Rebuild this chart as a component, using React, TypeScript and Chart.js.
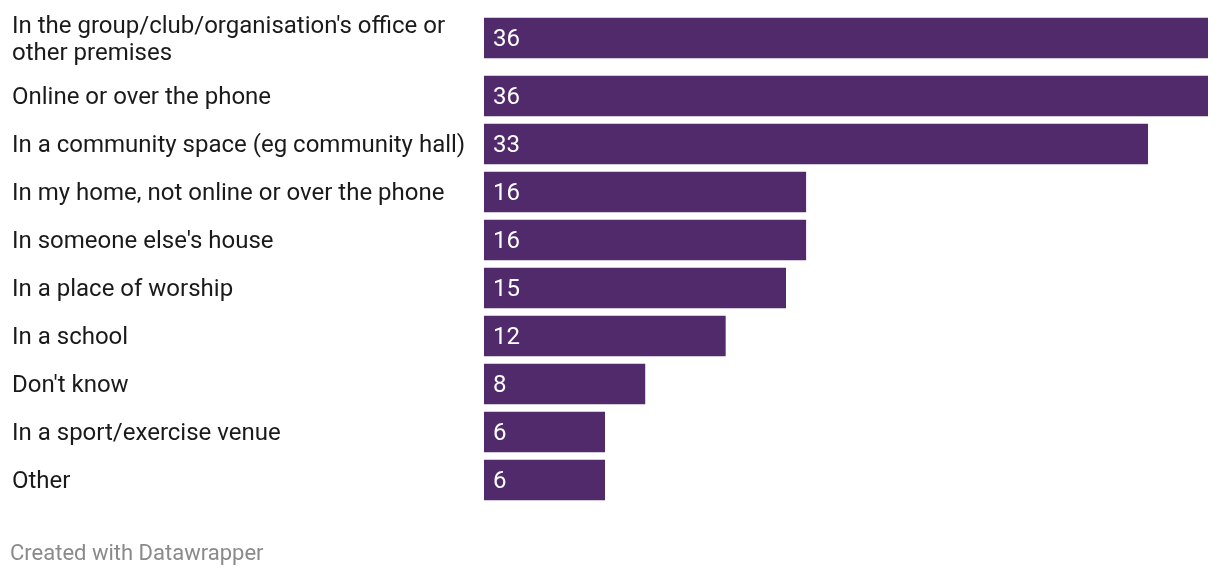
import React, { useEffect, useRef } from "react";
import { Chart, registerables } from "chart.js";

Chart.register(...registerables);

const categories: string[][] = [
  ["In the group/club/organisation's office or", "other premises"],
  ["Online or over the phone"],
  ["In a community space (eg community hall)"],
  ["In my home, not online or over the phone"],
  ["In someone else's house"],
  ["In a place of worship"],
  ["In a school"],
  ["Don't know"],
  ["In a sport/exercise venue"],
  ["Other"],
];
const values: number[] = [36, 36, 33, 16, 16, 15, 12, 8, 6, 6];
const footerText = "Created with Datawrapper";

const BAR_COLOR = "#502a6a";
const FONT = "Roboto";
const ROW = 48;
const EXTRA_LINE = 20;
const LINE_H = 27;

export default function App() {
  const ref = useRef<HTMLCanvasElement | null>(null);

  useEffect(() => {
    document.body.style.margin = "0";
    const heights = categories.map((c) => ROW + (c.length - 1) * EXTRA_LINE);
    const centers: number[] = [];
    let acc = 0;
    heights.forEach((h) => {
      centers.push(acc + h / 2);
      acc += h;
    });
    const total = acc;

    const labelPlugin = {
      id: "labels",
      afterDatasetsDraw(chart: any) {
        const ctx = chart.ctx;
        const yScale = chart.scales.y;
        const meta = chart.getDatasetMeta(0);
        ctx.save();
        ctx.font = `24px ${FONT}`;
        ctx.textBaseline = "middle";
        categories.forEach((lines, i) => {
          const cy = yScale.getPixelForValue(centers[i]);
          ctx.fillStyle = "#1a1a1a";
          ctx.textAlign = "left";
          const start = cy - ((lines.length - 1) * LINE_H) / 2;
          lines.forEach((ln, j) => ctx.fillText(ln, 12, start + j * LINE_H + 2));
          const bar = meta.data[i];
          ctx.fillStyle = "#ffffff";
          ctx.fillText(String(values[i]), bar.base + 9, cy + 2);
        });
        ctx.restore();
      },
    };

    const chart = new Chart(ref.current as HTMLCanvasElement, {
      type: "bar",
      data: {
        datasets: [
          {
            data: values.map((v, i) => ({ x: v, y: centers[i] })),
            backgroundColor: BAR_COLOR,
            barThickness: 40,
            borderWidth: 0,
          },
        ],
      },
      options: {
        indexAxis: "y",
        animation: false,
        responsive: false,
        layout: { padding: { left: 484, right: 12, top: 4, bottom: 72 } },
        scales: {
          x: { type: "linear", min: 0, max: 36, display: false, offset: false },
          y: { type: "linear", min: 0, max: total, reverse: true, display: false, offset: false },
        },
        plugins: { legend: { display: false }, tooltip: { enabled: false } },
      },
      plugins: [labelPlugin],
    });
    return () => chart.destroy();
  }, []);

  return (
    <div style={{ position: "relative", width: 1220, height: 576, background: "#fff" }}>
      <canvas ref={ref} width={1220} height={576} style={{ display: "block" }} />
      <div
        style={{
          position: "absolute",
          left: 10,
          top: 540,
          fontFamily: FONT,
          fontSize: 22,
          lineHeight: "26px",
          color: "#8a8a8a",
        }}
      >
        {footerText}
      </div>
    </div>
  );
}
